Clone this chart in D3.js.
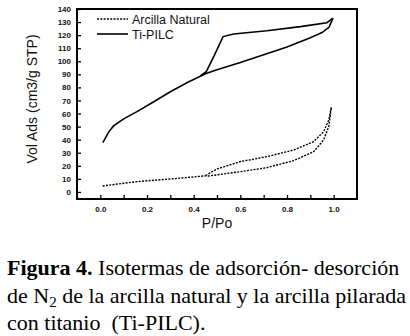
<!DOCTYPE html>
<html>
<head>
<meta charset="utf-8">
<script src="https://cdn.jsdelivr.net/npm/d3@7"></script>
<style>
  body { margin: 0; background: #fff; }
  svg { display: block; }
</style>
</head>
<body>
<div id="chart"></div>
<script>
// Ti-PILC isotherm (adsorption branch, then desorption branch)
const tiAdsP = [0.011, 0.036, 0.057, 0.10, 0.157, 0.229, 0.30, 0.371, 0.45, 0.50, 0.60, 0.70, 0.80, 0.90, 0.95, 0.98, 0.997];
const tiAdsV = [37.7, 46, 50.5, 55.9, 61.5, 69, 76.7, 83.6, 90.5, 93.5, 99, 105, 111, 118, 122, 126, 133];
const tiDesP = [0.997, 0.971, 0.857, 0.714, 0.571, 0.526, 0.486, 0.454, 0.43];
const tiDesV = [133, 129.5, 126.5, 123.4, 120.9, 118.9, 103.5, 92, 89];

// Arcilla natural isotherm
const natAdsP = [0.01, 0.157, 0.30, 0.45, 0.464, 0.60, 0.714, 0.829, 0.914, 0.957, 0.979, 0.99];
const natAdsV = [4.6, 7.9, 9.9, 12.3, 12.2, 15.5, 18.6, 24, 30.8, 39.8, 50, 64.8];
const natDesP = [0.99, 0.979, 0.957, 0.914, 0.829, 0.714, 0.60, 0.50, 0.45];
const natDesV = [64.8, 55, 46.1, 38.5, 32.1, 27, 23.2, 17.6, 12.5];

const xTicks = [0.0, 0.2, 0.4, 0.6, 0.8, 1.0];
const xMinorTicks = [-0.1, 0.1, 0.3, 0.5, 0.7, 0.9];
const yTicks = [0, 10, 20, 30, 40, 50, 60, 70, 80, 90, 100, 110, 120, 130, 140];

const legendLabels = ['Arcilla Natural', 'Ti-PILC'];

const W = 410, H = 336;
const margin = {top: 9, right: 53, bottom: 137, left: 77};

const svg = d3.select('#chart')
              .append('svg')
              .attr('width', W)
              .attr('height', H);

svg.append('rect').attr('width', W).attr('height', H).attr('fill', '#fff');

const x = d3.scaleLinear()
            .domain([-0.1, 1.1])
            .range([margin.left, W - margin.right]);

const y = d3.scaleLinear()
            .domain([-5.4, 140])
            .range([H - margin.bottom, margin.top]);

const tickFont = '"Liberation Sans", Arial, sans-serif';

// bottom axis, ticks pointing inward
const xAxis = svg.append('g')
   .attr('transform', `translate(0,${H - margin.bottom})`)
   .call(d3.axisBottom(x).tickValues(xTicks.concat(xMinorTicks))
           .tickSizeInner(-4).tickSizeOuter(0).tickPadding(7)
           .tickFormat(d => xTicks.includes(d) ? d3.format('.1f')(d) : ''));

const yAxis = svg.append('g')
   .attr('transform', `translate(${margin.left},0)`)
   .call(d3.axisLeft(y).tickValues(yTicks)
           .tickSizeInner(-4).tickSizeOuter(0).tickPadding(6));

[xAxis, yAxis].forEach(g => {
  g.select('.domain').remove();
  g.selectAll('line').attr('stroke', '#000').attr('stroke-width', 1.3);
  g.selectAll('text')
   .attr('font-family', tickFont)
   .attr('font-size', '8px')
   .attr('font-weight', 'bold')
   .attr('fill', '#111');
});

// frame
svg.append('rect')
   .attr('x', margin.left)
   .attr('y', margin.top)
   .attr('width', W - margin.left - margin.right)
   .attr('height', H - margin.top - margin.bottom)
   .attr('fill', 'none')
   .attr('stroke', '#000')
   .attr('stroke-width', 2);

const line = d3.line()
               .x(d => x(d[0]))
               .y(d => y(d[1]));

const zip = (a, b) => a.map((v, i) => [v, b[i]]);

// Ti-PILC, solid
[zip(tiAdsP, tiAdsV), zip(tiDesP, tiDesV)].forEach(pts => {
  svg.append('path')
     .attr('d', line(pts))
     .attr('fill', 'none')
     .attr('stroke', '#000')
     .attr('stroke-width', 1.6);
});

// Arcilla natural, dotted
[zip(natAdsP, natAdsV), zip(natDesP, natDesV)].forEach(pts => {
  svg.append('path')
     .attr('d', line(pts))
     .attr('fill', 'none')
     .attr('stroke', '#000')
     .attr('stroke-width', 1.4)
     .attr('stroke-dasharray', '2,1.3');
});

// legend
const legend = svg.append('g');
legendLabels.forEach((lab, i) => {
  const ly = 19 + i * 15;
  legend.append('line')
        .attr('x1', 97).attr('x2', 128)
        .attr('y1', ly).attr('y2', ly)
        .attr('stroke', '#000')
        .attr('stroke-width', i === 0 ? 1.4 : 1.6)
        .attr('stroke-dasharray', i === 0 ? '2,1.3' : null);
  legend.append('text')
        .attr('x', 132).attr('y', ly + 4.5)
        .attr('font-family', tickFont)
        .attr('font-size', '12.5px')
        .attr('fill', '#111')
        .text(lab);
});

// axis titles
svg.append('text')
   .attr('transform', `translate(37,${(margin.top + H - margin.bottom) / 2 - 5}) rotate(-90)`)
   .attr('text-anchor', 'middle')
   .attr('font-family', tickFont)
   .attr('font-size', '14px')
   .attr('fill', '#111')
   .text('Vol Ads (cm3/g STP)');

svg.append('text')
   .attr('x', (margin.left + W - margin.right) / 2)
   .attr('y', 228)
   .attr('text-anchor', 'middle')
   .attr('font-family', tickFont)
   .attr('font-size', '14px')
   .attr('fill', '#111')
   .text('P/Po');

// caption
const capFont = '"Liberation Serif", "Times New Roman", serif';
const cap = svg.append('g')
               .attr('font-family', capFont)
               .attr('font-size', '22px')
               .attr('fill', '#000');

const l1 = cap.append('text').attr('x', 7).attr('y', 275);
l1.append('tspan').attr('font-weight', 'bold').text('Figura 4.');
l1.append('tspan').text(' Isotermas de adsorción- desorción');

const l2 = cap.append('text').attr('x', 7).attr('y', 303);
l2.append('tspan').text('de N');
l2.append('tspan').attr('font-size', '15px').attr('dy', 4).text('2');
l2.append('tspan').attr('dy', -4).text(' de la arcilla natural y la arcilla pilarada');

cap.append('text').attr('x', 7).attr('y', 330)
   .attr('xml:space', 'preserve')
   .text('con titanio  (Ti-PILC).');
</script>
</body>
</html>
